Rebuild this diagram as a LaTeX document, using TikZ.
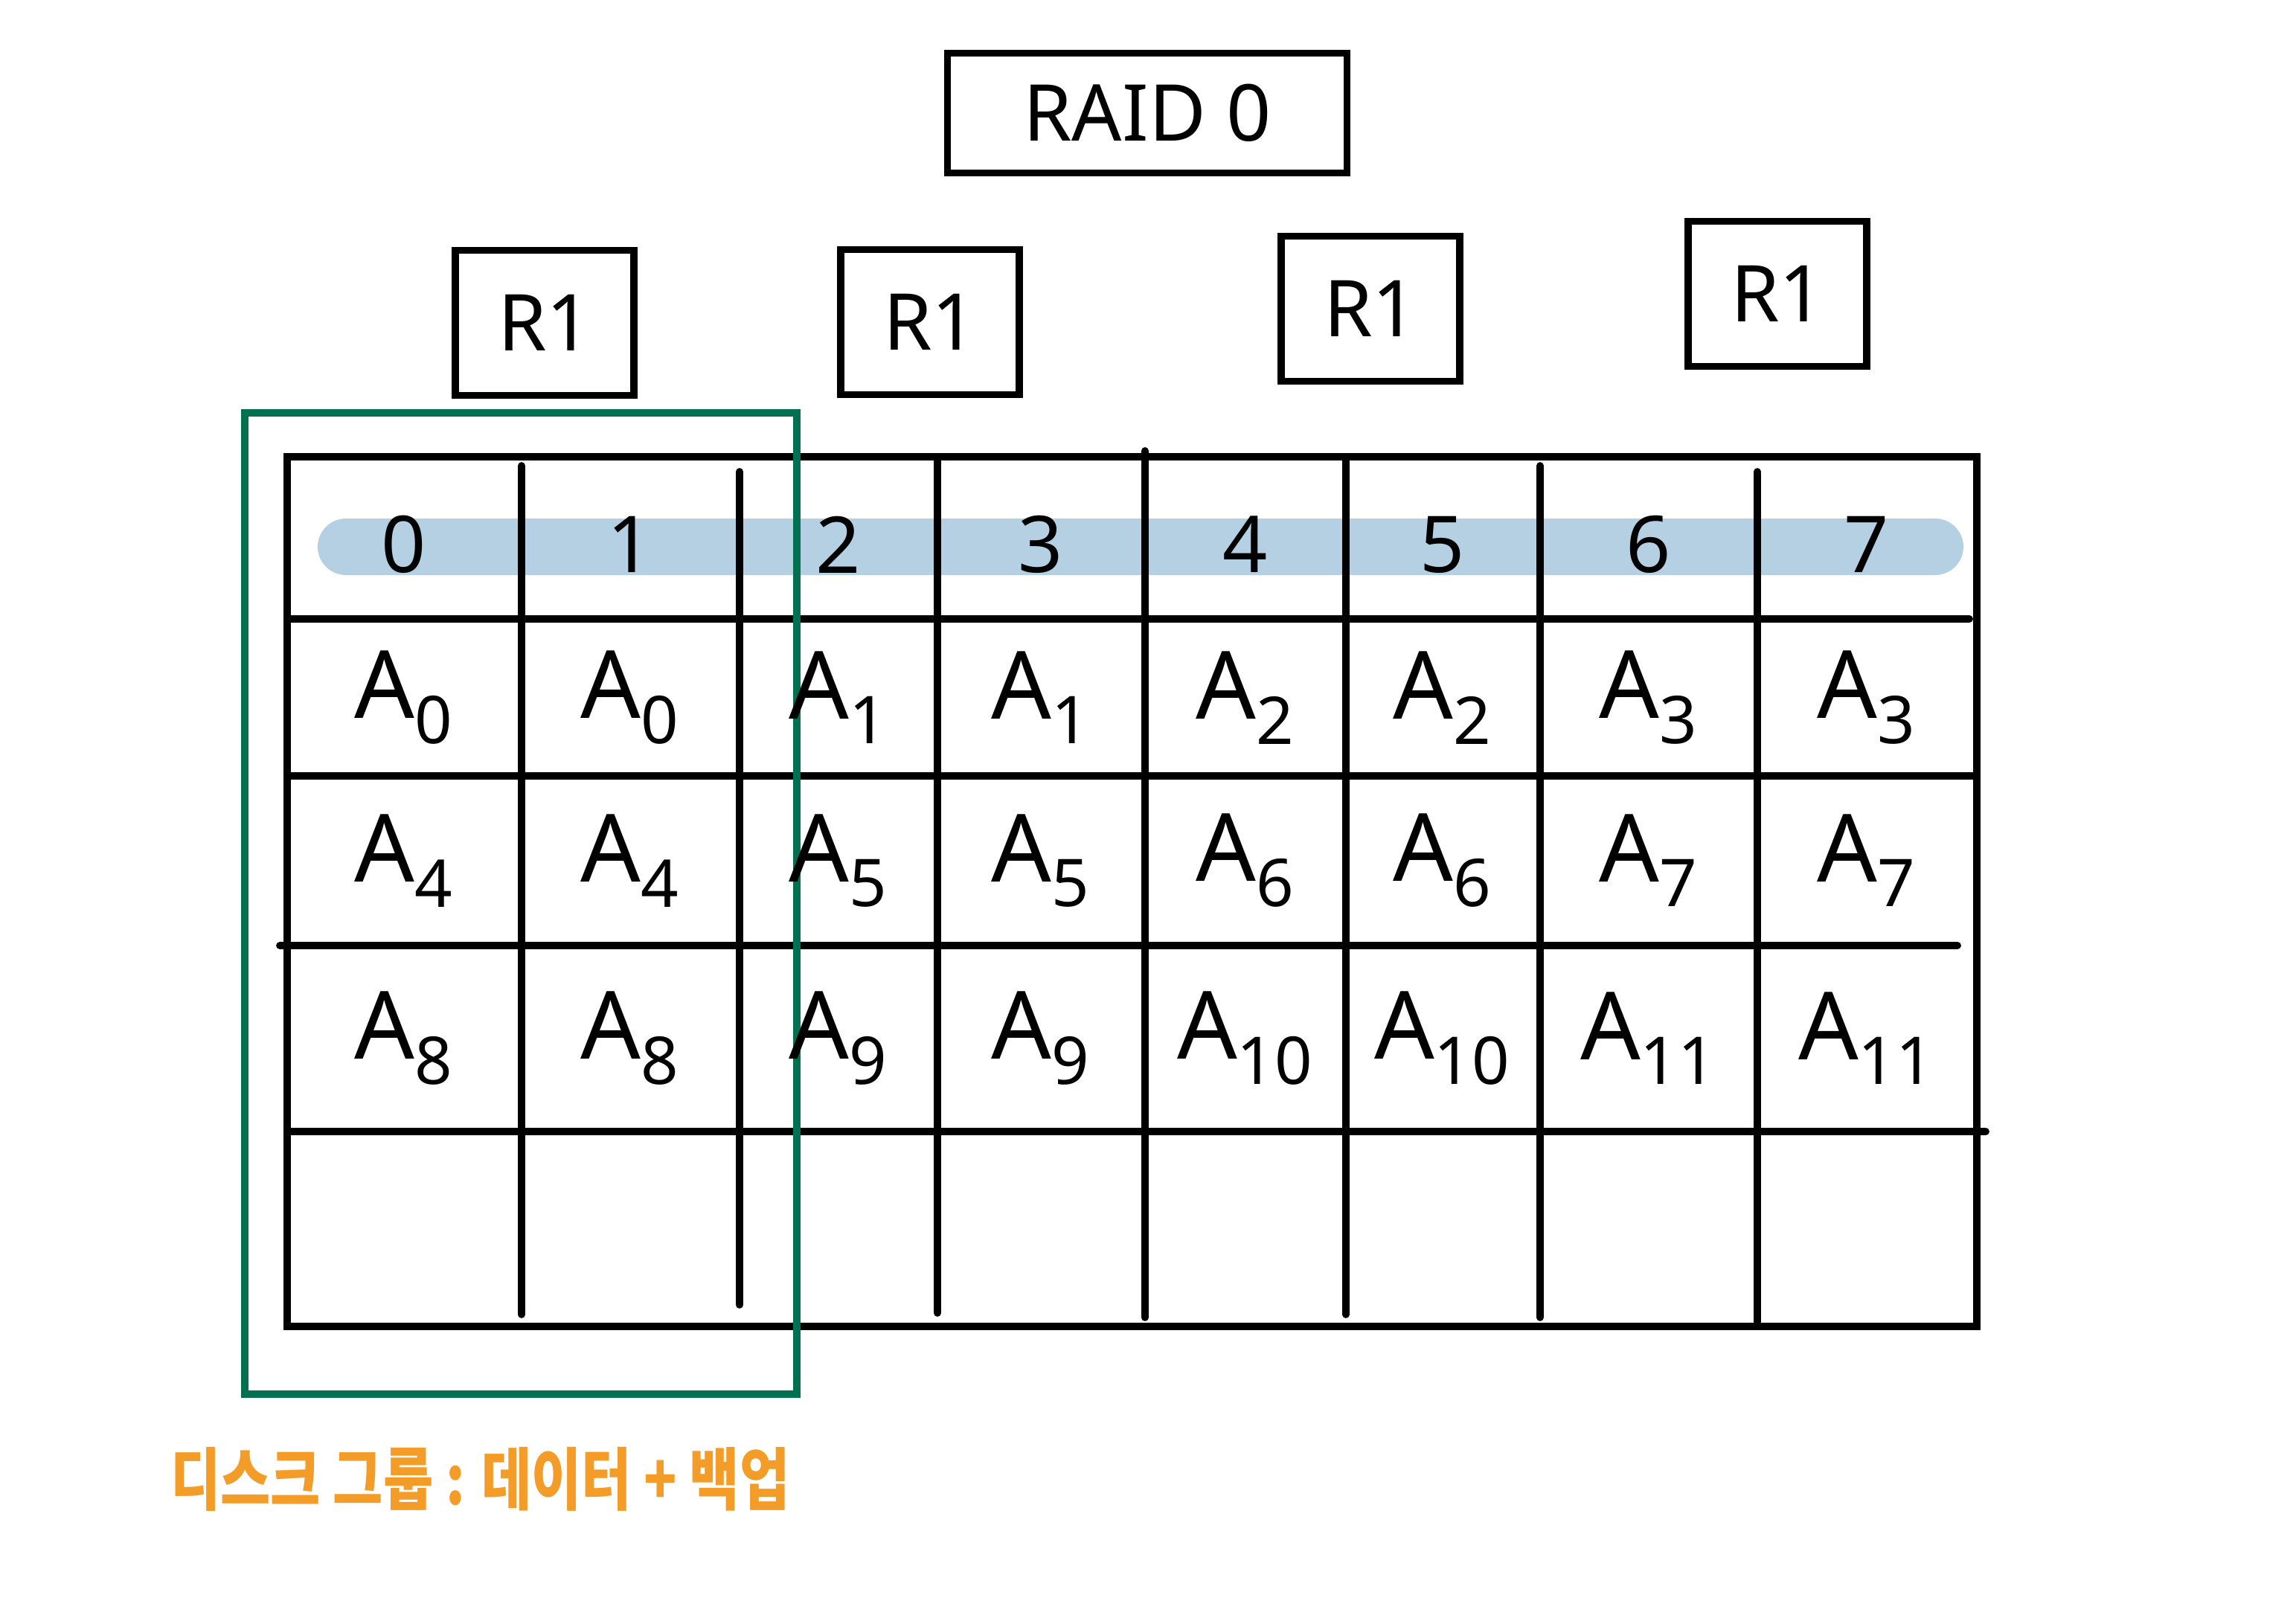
\documentclass[tikz,border=0pt]{standalone}
\usepackage{fontspec}
\setmainfont{Noto Sans}
\newfontfamily\korfont{Noto Sans CJK KR}
\definecolor{bandblue}{RGB}{181,207,227}
\definecolor{groupgreen}{RGB}{0,112,80}
\definecolor{noteorange}{RGB}{243,156,40}

\begin{document}
\begin{tikzpicture}[line width=2.8pt, line cap=round,
  diskbox/.style={draw, line width=2.6pt, minimum width=2.40cm, minimum height=1.95cm, font=\fontsize{30}{36}\selectfont},
  headnum/.style={font=\fontsize{30}{36}\selectfont},
  blocknum/.style={font=\fontsize{36}{42}\selectfont}]
\useasboundingbox (0,0) rectangle (30.86,-21.82);

\node[diskbox, minimum width=5.37cm, minimum height=1.61cm] (raid) at (15.42,-1.52) {RAID 0};

\node[diskbox] (r1a) at (7.32,-4.34) {R1};
\node[diskbox] (r1b) at (12.50,-4.33) {R1};
\node[diskbox] (r1c) at (18.42,-4.15) {R1};
\node[diskbox] (r1d) at (23.89,-3.95) {R1};

\fill[bandblue, rounded corners=0.38cm] (4.27,-6.97) rectangle (26.39,-7.73);

\draw (3.86,-6.14) rectangle (26.57,-17.83);

\foreach \x/\a/\b in {7.01/6.26/17.67, 9.94/6.34/17.54, 12.60/6.14/17.65, 15.39/6.06/17.71,
                      18.09/6.14/17.67, 20.70/6.26/17.71, 23.62/6.34/17.83}
	\draw (\x,-\a) -- (\x,-\b);

\foreach \y/\a/\b in {8.32/3.86/26.47, 10.43/3.86/26.57, 12.71/3.76/26.31, 15.21/3.90/26.69}
	\draw (\a,-\y) -- (\b,-\y);

\draw[groupgreen, line width=2.6pt, line cap=butt] (3.29,-5.55) rectangle (10.71,-18.74);

\foreach \n/\x in {0/5.43, 1/8.47, 2/11.27, 3/13.99, 4/16.74, 5/19.39, 6/22.16, 7/25.09}
	\node[headnum] (h\n) at (\x,-7.32) {\n};

\foreach \r/\y in {0/9.38, 1/11.57, 2/13.96}
	\foreach \n/\x in {0/5.43, 1/8.47, 2/11.27, 3/13.99, 4/16.74, 5/19.39, 6/22.16, 7/25.09} {
		\pgfmathtruncatemacro\k{4*\r+int(\n/2)}
		\node[blocknum] (a\r\n) at (\x,-\y) {A\textsubscript{\k}};
	}

\node[anchor=west, text=noteorange, xscale=0.8, transform shape, font=\korfont\bfseries\fontsize{26}{30}\selectfont] (note) at (2.16,-19.88) {디스크 그룹 : 데이터 + 백업};

\end{tikzpicture}
\end{document}
